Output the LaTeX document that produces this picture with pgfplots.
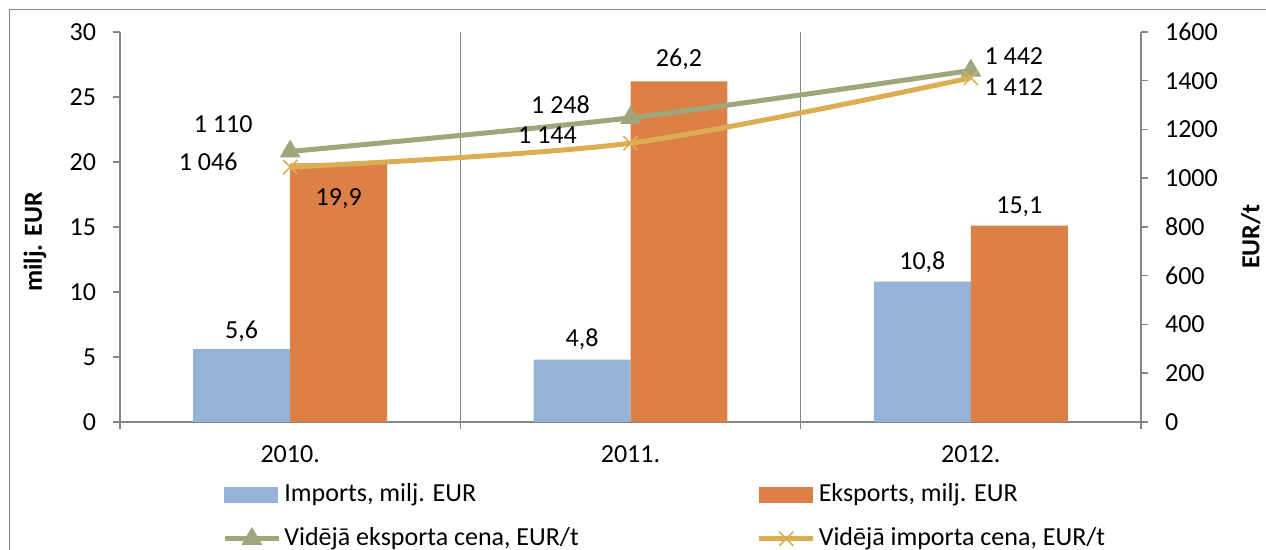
\documentclass[border=0pt]{standalone}
\usepackage{fontspec}
\setmainfont{Carlito}
\usepackage{pgfplots}
\pgfplotsset{compat=1.18}
\definecolor{impc}{RGB}{149,179,215}
\definecolor{expc}{RGB}{221,128,71}
\definecolor{grn}{RGB}{157,167,123}
\definecolor{ylw}{RGB}{220,174,84}
\definecolor{axc}{RGB}{134,134,134}
\begin{document}
\fontsize{13}{15.6}\selectfont
\begin{tikzpicture}[font=\fontsize{13}{15.6}\selectfont]
\begin{axis}[
  at={(60pt,64pt)}, anchor=south west,
  scale only axis, width=510.5pt, height=195pt,
  xmin=-0.5, xmax=2.5, ymin=0, ymax=30,
  ytick={0,5,...,30},
  xtick={0,1,2}, xticklabels={2010.,2011.,2012.},
  major x tick style={draw=none},
  minor xtick={-0.5,0.5,1.5,2.5},
  xminorgrids, minor x grid style={axc, line width=0.75pt},
  axis x line*=bottom, axis y line*=left,
  axis line style={-, axc, line width=0.75pt},
  tick align=outside,
  major tick length=3.5pt, minor tick length=3.5pt,
  y tick style={axc, line width=0.75pt},
  minor x tick style={axc, line width=0.75pt},
  /pgf/number format/assume math mode=true,
  yticklabel style={xshift=-4pt},
  xticklabel style={yshift=-4pt},
  every axis y label/.style={at={(axis description cs:-0.0833,0.4615)}, anchor=center, rotate=90},
  ylabel={\bfseries milj. EUR},
  clip=false,
]
\addplot[ybar, bar width=0.285, bar shift=-0.1425, fill=impc, draw=none] coordinates {(0,5.6) (1,4.8) (2,10.8)};
\addplot[ybar, bar width=0.285, bar shift=0.1425, fill=expc, draw=none] coordinates {(0,19.9) (1,26.2) (2,15.1)};
\node at (axis cs:-0.1425,5.6) [yshift=9pt] {5,6};
\node at (axis cs:0.1425,19.9) [yshift=-17.5pt] {19,9};
\node at (axis cs:0.8575,4.8) [yshift=10pt] {4,8};
\node at (axis cs:1.1425,26.2) [yshift=11pt] {26,2};
\node at (axis cs:1.8575,10.8) [yshift=9.5pt] {10,8};
\node at (axis cs:2.1425,15.1) [yshift=9.5pt] {15,1};
\end{axis}
\begin{axis}[
  at={(60pt,64pt)}, anchor=south west,
  scale only axis, width=510.5pt, height=195pt,
  xmin=-0.5, xmax=2.5, ymin=0, ymax=1600,
  ytick={0,200,...,1600},
  axis y line*=right, axis x line=none,
  axis line style={-, axc, line width=0.75pt},
  tick align=outside,
  major tick length=3.5pt,
  y tick style={axc, line width=0.75pt},
  /pgf/number format/assume math mode=true,
  /pgf/number format/1000 sep={},
  yticklabel style={xshift=4pt},
  every axis y label/.style={at={(axis description cs:1.1077,0.4756)}, anchor=center, rotate=90},
  ylabel={\bfseries EUR/t},
  clip=false,
  legend columns=2,
  legend cell align=left,
  legend style={at={(axis description cs:0.0999,-0.15)}, anchor=north west, draw=none, fill=none,
    inner sep=0pt, row sep=8pt, /tikz/column 2/.style={column sep=87.5pt},
    nodes={inner sep=1.5pt}},
  line leg/.style={legend image code/.code={\draw[mark repeat=2,mark phase=2,##1] plot coordinates {(0pt,0pt) (13.5pt,0pt) (27pt,0pt)};}},
]
\addlegendimage{legend image code/.code={\fill[impc] (0pt,-3.75pt) rectangle (26.5pt,3.75pt);}}
\addlegendentry{Imports, milj. EUR}
\addlegendimage{legend image code/.code={\fill[expc] (0pt,-3.75pt) rectangle (26.5pt,3.75pt);}}
\addlegendentry{Eksports, milj. EUR}
\addplot[grn, line width=2.5pt, smooth, tension=0.5, mark=triangle*, mark size=5.5pt, mark options={solid, fill=grn, draw=grn, line width=0.5pt}, line leg] coordinates {(0,1110) (1,1248) (2,1442)};
\addlegendentry{Vidējā eksporta cena, EUR/t}
\addplot[ylw, line width=2.5pt, smooth, tension=0.5, mark=x, mark size=5pt, mark options={solid, line width=0.8pt}, line leg] coordinates {(0,1046) (1,1144) (2,1412)};
\addlegendentry{Vidējā importa cena, EUR/t}
\node at (axis cs:0,1110) [xshift=-33.5pt, yshift=13.75pt] {1 110};
\node at (axis cs:0,1046) [xshift=-41pt, yshift=2.5pt] {1 046};
\node at (axis cs:1,1248) [xshift=-35pt, yshift=6.5pt] {1 248};
\node at (axis cs:1,1144) [xshift=-41.5pt, yshift=4pt] {1 144};
\node at (axis cs:2,1442) [xshift=21.5pt, yshift=7pt] {1 442};
\node at (axis cs:2,1412) [xshift=21.5pt, yshift=-4.5pt] {1 412};
\end{axis}
\draw[axc, line width=0.5pt] (4.5pt,-20pt) rectangle (700pt,270pt);
\pgfresetboundingbox
\useasboundingbox (0pt,0pt) rectangle (633pt,275pt);
\end{tikzpicture}
\end{document}
